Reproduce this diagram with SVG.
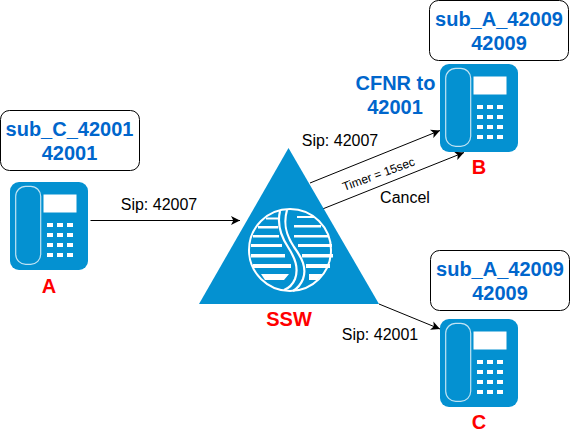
<svg xmlns="http://www.w3.org/2000/svg" width="571" height="438" viewBox="0 0 571 438">
<style>
text{font-family:"Liberation Sans",Arial,sans-serif;text-anchor:middle}
.lbl{font-size:16px;fill:#000}
.blue{font-size:20px;font-weight:bold;fill:#0066CC}
.red{font-size:20px;font-weight:bold;fill:#FF0000}
.box{fill:#fff;stroke:#000;stroke-width:1}
.con{fill:none;stroke:#000;stroke-width:1;marker-end:url(#arr)}
.hs{fill:none;stroke:#fff;stroke-opacity:.75;stroke-width:1.2}
</style>
<defs>
<marker id="arr" markerUnits="userSpaceOnUse" markerWidth="12" markerHeight="10" refX="9" refY="5" orient="auto"><path d="M0 0.5L9 5L0 9.5L2.3 5Z" fill="#000"/></marker>
<g id="phone">
<rect x="0" y="0" width="78" height="88" rx="9" fill="#0491D1"/>
<rect x="5.700" y="4.300" width="25" height="78" rx="10" class="hs"/>
<rect x="33.500" y="12.500" width="33" height="18" fill="#fff"/>
<path fill="#fff" d="M37 41h6v4h-6zM47 41h6v4h-6zM57 41h6v4h-6zM37 51h6v4h-6zM47 51h6v4h-6zM57 51h6v4h-6zM37 61h6v4h-6zM47 61h6v4h-6zM57 61h6v4h-6zM37 71h6v4h-6zM47 71h6v4h-6zM57 71h6v4h-6z"/>
</g>
</defs>
<g id="connectors">
<path class="con" d="M90.500 220.500H240"/>
<path class="con" d="M310 183L440 130.500"/>
<path class="con" d="M320 210L464 152.500"/>
<path class="con" d="M379 304L440 329"/>
<text class="lbl" x="159" y="210">Sip: 42007</text>
<text class="lbl" x="340" y="146">Sip: 42007</text>
<text x="380" y="178" font-size="12" transform="rotate(-20 380 178)" fill="#000">Timer = 15sec</text>
<text class="lbl" x="405" y="203">Cancel</text>
<text class="lbl" x="380" y="340">Sip: 42001</text>
</g>
<g id="node-A">
<rect class="box" x="0.500" y="110.500" width="139" height="60" rx="9"/>
<text class="blue" x="69.500" y="136">sub_C_42001</text>
<text class="blue" x="69.500" y="160">42001</text>
<use href="#phone" x="10" y="182"/>
<text class="red" x="49" y="293">A</text>
</g>
<g id="node-SSW">
<path d="M288.500 148L379 304H199Z" fill="#0491D1"/>
<circle cx="290" cy="250" r="41" fill="#0491D1" stroke="#fff" stroke-width="2"/>
<path fill="#fff" d="M266 217.500h13v2h-13zM258 226h20v2.500h-20zM253 235h26v2.500h-26zM251 244h31v3h-31zM251 254h34v3.500h-34zM253 264h38v4h-38zM261 274h28l-5 6h-19z"/>
<path fill="#fff" d="M297 216h17v2h-17zM294 225h27v2.500h-27zM294 235h34v2.500h-34zM298 244h34v3h-34zM302 254h31v3.500h-31zM306 264h24v4h-24zM309 274h14l-6 6h-8z"/>
<path fill="none" stroke="#fff" stroke-width="2.200" d="M280 211C277 224 280 235 288 247C295 258 299 268 295 279C293 284 289 288 284 290"/>
<path fill="none" stroke="#fff" stroke-width="2.200" d="M287 210C283 224 286 235 294 247C302 258 307 268 303 279C301 284 298 288 293 291"/>
<text class="red" x="289" y="326">SSW</text>
</g>
<g id="node-B">
<rect class="box" x="429.500" y="0.500" width="139" height="60" rx="9"/>
<text class="blue" x="499" y="26">sub_A_42009</text>
<text class="blue" x="499" y="50">42009</text>
<text class="blue" x="395.500" y="90">CFNR to</text>
<text class="blue" x="395" y="114">42001</text>
<use href="#phone" x="440" y="64"/>
<text class="red" x="479" y="174">B</text>
</g>
<g id="node-C">
<rect class="box" x="430.500" y="250.500" width="139" height="60" rx="9"/>
<text class="blue" x="500" y="276">sub_A_42009</text>
<text class="blue" x="500" y="300">42009</text>
<use href="#phone" x="440" y="319"/>
<text class="red" x="479" y="429">C</text>
</g>
</svg>
